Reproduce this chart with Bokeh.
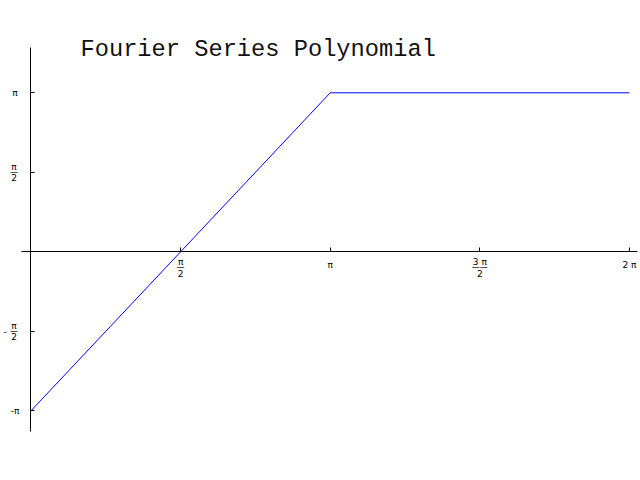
import math
from bokeh.plotting import figure
from bokeh.models import FixedTicker, Label, CustomJSTickFormatter
from bokeh.core.properties import value
from bokeh.embed import file_html
from bokeh.resources import INLINE

PI = math.pi

# curve data
curve_x = [0.0, PI, 2 * PI]
curve_y = [-PI, PI, PI]

# tick values and labels
x_ticks = [PI / 2, PI, 3 * PI / 2, 2 * PI]
x_num = ["π", "π", "3 π", "2 π"]
x_den = ["2", "", "2", ""]

y_ticks = [-PI, -PI / 2, PI / 2, PI]
y_sign = ["", "-", "", ""]
y_num = ["-π", "π", "π", "π"]
y_den = ["", "2", "2", ""]

title_text = "Fourier Series Polynomial"

LABEL_FONT = value("DejaVu Sans")
LABEL_SIZE = "9px"

p = figure(width=640, height=480, output_backend="svg", toolbar_location=None,
           x_range=(-0.3202, 6.399), y_range=(-4.519, 4.965),
           min_border=0, title=None)
p.outline_line_color = None
p.grid.visible = False
p.background_fill_color = "white"
p.border_fill_color = "white"

blank = CustomJSTickFormatter(code="return ''")

xa = p.xaxis[0]
xa.fixed_location = 0
xa.bounds = (-0.1, 6.364)
xa.ticker = FixedTicker(ticks=x_ticks, minor_ticks=[])
xa.formatter = blank
xa.major_tick_in = 4
xa.major_tick_out = 0
xa.minor_tick_in = 0
xa.minor_tick_out = 0
xa.axis_line_color = "black"
xa.major_tick_line_color = "black"

ya = p.yaxis[0]
ya.fixed_location = 0
ya.bounds = (-3.545, 4.043)
ya.ticker = FixedTicker(ticks=y_ticks, minor_ticks=[])
ya.formatter = blank
ya.major_tick_in = 4
ya.major_tick_out = 0
ya.minor_tick_in = 0
ya.minor_tick_out = 0
ya.axis_line_color = "black"
ya.major_tick_line_color = "black"

# curve
p.line(curve_x, curve_y, line_color="blue", line_width=1)

# x tick labels
xs = [i for i, d in enumerate(x_den) if not d]
xf = [i for i, d in enumerate(x_den) if d]
p.text(x=[x_ticks[i] for i in xs], y=[0] * len(xs), text=[x_num[i] for i in xs],
       y_offset=13, text_align="center", text_baseline="middle",
       text_font=LABEL_FONT, text_font_size=LABEL_SIZE, text_color="black")
p.text(x=[x_ticks[i] for i in xf], y=[0] * len(xf), text=[x_num[i] for i in xf],
       y_offset=10, text_align="center", text_baseline="middle",
       text_font=LABEL_FONT, text_font_size=LABEL_SIZE, text_color="black")
p.text(x=[x_ticks[i] for i in xf], y=[0] * len(xf),
       text=["—" * (1 if len(x_num[i]) == 1 else 2) for i in xf],
       y_offset=16, text_align="center", text_baseline="middle",
       text_font=LABEL_FONT, text_font_size="8px", text_color="black")
p.text(x=[x_ticks[i] for i in xf], y=[0] * len(xf), text=[x_den[i] for i in xf],
       y_offset=22, text_align="center", text_baseline="middle",
       text_font=LABEL_FONT, text_font_size=LABEL_SIZE, text_color="black")

# y tick labels
ys = [i for i, d in enumerate(y_den) if not d]
yf = [i for i, d in enumerate(y_den) if d]
p.text(x=[0] * len(ys), y=[y_ticks[i] for i in ys], text=[y_num[i] for i in ys],
       x_offset=-16, text_align="center", text_baseline="middle",
       text_font=LABEL_FONT, text_font_size=LABEL_SIZE, text_color="black")
p.text(x=[0] * len(yf), y=[y_ticks[i] for i in yf], text=[y_num[i] for i in yf],
       x_offset=-17, y_offset=-5, text_align="center", text_baseline="middle",
       text_font=LABEL_FONT, text_font_size=LABEL_SIZE, text_color="black")
p.text(x=[0] * len(yf), y=[y_ticks[i] for i in yf], text=["—" for i in yf],
       x_offset=-17, y_offset=0, text_align="center", text_baseline="middle",
       text_font=LABEL_FONT, text_font_size="8px", text_color="black")
p.text(x=[0] * len(yf), y=[y_ticks[i] for i in yf], text=[y_den[i] for i in yf],
       x_offset=-17, y_offset=5, text_align="center", text_baseline="middle",
       text_font=LABEL_FONT, text_font_size=LABEL_SIZE, text_color="black")
sg = [i for i, s in enumerate(y_sign) if s]
p.text(x=[0] * len(sg), y=[y_ticks[i] for i in sg], text=[y_sign[i] for i in sg],
       x_offset=-26, text_align="center", text_baseline="middle",
       text_font=LABEL_FONT, text_font_size=LABEL_SIZE, text_color="black")

# title
p.add_layout(Label(x=80, y=431, x_units="screen", y_units="screen", text=title_text,
                   text_font="Liberation Mono", text_font_size="23.7px",
                   text_baseline="alphabetic", text_color="#111111"))

open("out.html", "w").write(file_html(p, INLINE))
